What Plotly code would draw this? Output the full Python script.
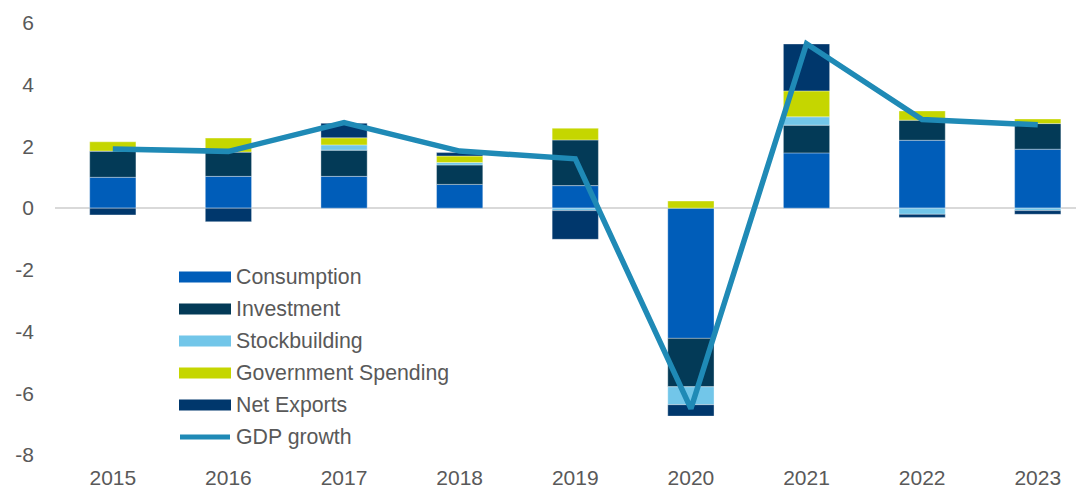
import plotly.graph_objects as go

years = ["2015", "2016", "2017", "2018", "2019", "2020", "2021", "2022", "2023"]
consumption = [1.0, 1.03, 1.03, 0.77, 0.73, -4.22, 1.79, 2.2, 1.91]
investment = [0.85, 0.79, 0.85, 0.63, 1.48, -1.57, 0.9, 0.65, 0.83]
stockbuilding = [0.0, 0.0, 0.17, 0.08, -0.08, -0.58, 0.27, -0.2, -0.08]
government = [0.3, 0.45, 0.23, 0.21, 0.38, 0.23, 0.84, 0.3, 0.15]
net_exports = [-0.22, -0.44, 0.47, 0.11, -0.93, -0.37, 1.52, -0.1, -0.12]
gdp_growth = [1.92, 1.84, 2.77, 1.85, 1.6, -6.5, 5.33, 2.87, 2.7]
y_ticks = [6, 4, 2, 0, -2, -4, -6, -8]

series = [
    ("Consumption", consumption, "#005DB9"),
    ("Investment", investment, "#033A57"),
    ("Stockbuilding", stockbuilding, "#72C6E9"),
    ("Government Spending", government, "#C5D600"),
    ("Net Exports", net_exports, "#00376C"),
]
gdp_color = "#1F8AB6"
text_color = "#595959"
font = "Liberation Sans, Arial, sans-serif"

# page body has an 8px margin, so the figure sits at (8, 8)
W, H = 1076, 484
L, R, T, B = 47, 0, 15, 37

fig = go.Figure()
for name, vals, col in series:
    fig.add_trace(go.Bar(x=years, y=vals, name=name, marker_color=col,
                         marker_line=dict(color="rgba(255,255,255,0.35)", width=1),
                         width=0.4, showlegend=False))
fig.add_trace(go.Scatter(x=years, y=gdp_growth, name="GDP growth", mode="lines",
                         line=dict(color=gdp_color, width=5.5), showlegend=False))


# hand-drawn legend (wide swatches like the original); coords in page pixels
def px(x):
    return (x - 8 - L) / (W - L - R)


def py(y):
    return (H - B - (y - 8)) / (H - T - B)


shapes = []
annotations = []
legend_rows = [(n, c) for n, _, c in series] + [("GDP growth", gdp_color)]
for i, (name, col) in enumerate(legend_rows):
    yc = 277 + i * 32
    if name == "GDP growth":
        shapes.append(dict(type="line", xref="paper", yref="paper", x0=px(180), x1=px(230),
                           y0=py(yc), y1=py(yc), line=dict(color=col, width=5)))
    else:
        shapes.append(dict(type="rect", xref="paper", yref="paper", x0=px(179), x1=px(231),
                           y0=py(yc - 5.5), y1=py(yc + 5.5), fillcolor=col, line=dict(width=0)))
    annotations.append(dict(text=name, xref="paper", yref="paper", x=px(234), y=py(yc),
                            xanchor="left", yanchor="middle", showarrow=False,
                            font=dict(size=21.3, color=text_color, family=font)))

fig.update_layout(
    width=W, height=H,
    margin=dict(l=L, r=R, t=T, b=B),
    barmode="relative",
    paper_bgcolor="white", plot_bgcolor="white",
    font=dict(family=font, color=text_color, size=21),
    shapes=shapes, annotations=annotations,
    showlegend=False,
)
fig.update_xaxes(range=[-0.5, 8.4], showgrid=False, showline=False, ticks="",
                 tickfont=dict(size=21, color=text_color), ticklabelstandoff=8, automargin=False)
fig.update_yaxes(range=[-8, 6], tickvals=y_ticks, ticktext=[str(v) for v in y_ticks],
                 showgrid=False, zeroline=True, zerolinecolor="#D9D9D9",
                 zerolinewidth=2, showline=False, ticks="", tickfont=dict(size=21, color=text_color),
                 ticklabelstandoff=20, automargin=False)

fig.write_html("out.html")
